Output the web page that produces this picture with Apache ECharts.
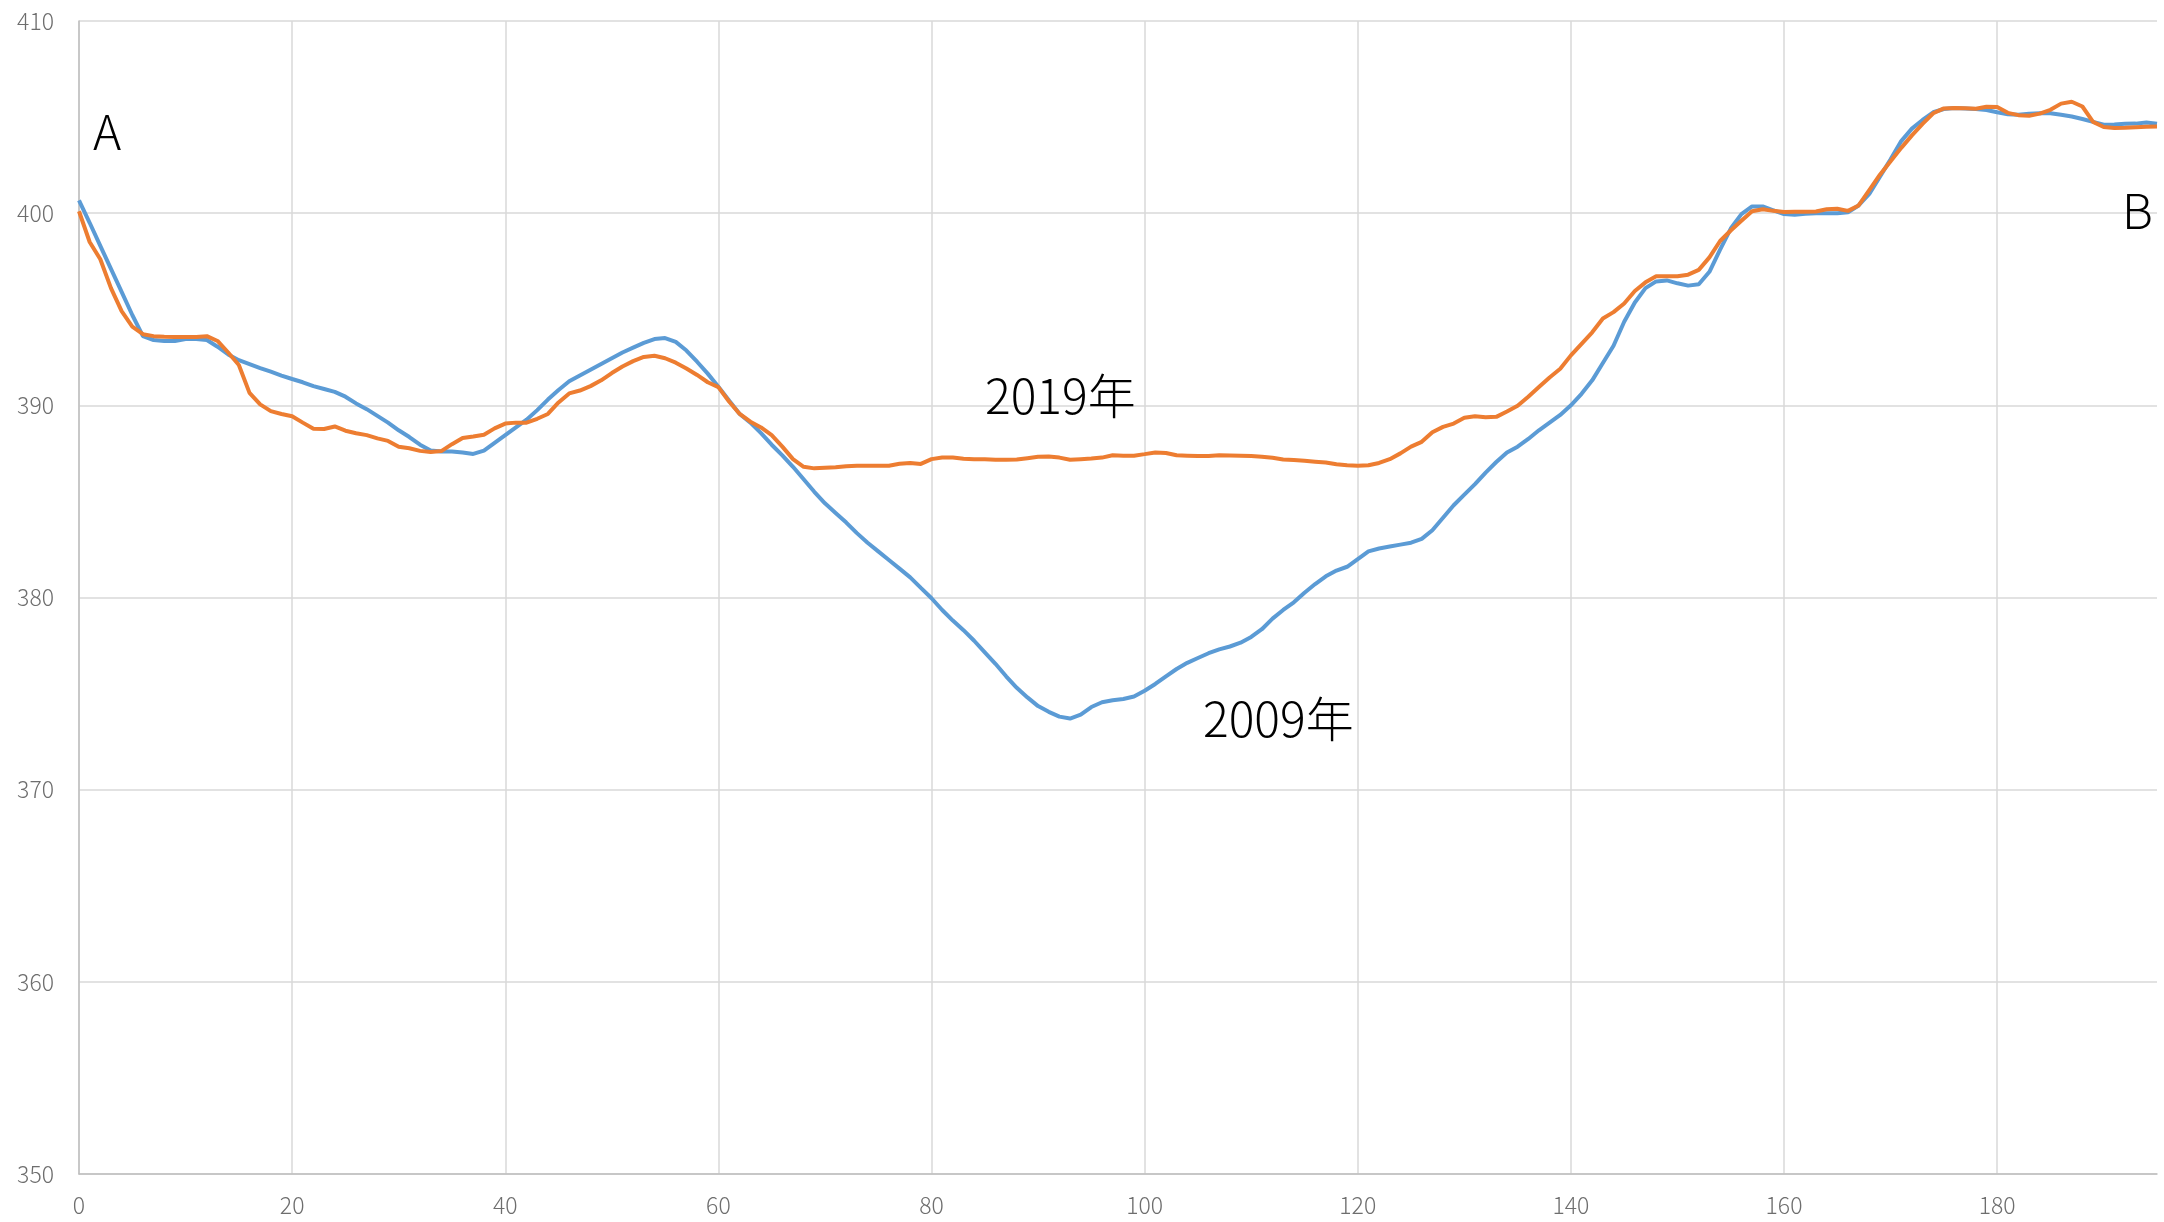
<!DOCTYPE html>
<html>
<head>
<meta charset="utf-8">
<script src="https://cdn.jsdelivr.net/npm/echarts@6/dist/echarts.min.js"></script>
<style>
  html, body { margin: 0; padding: 0; background: #ffffff; }
  #chart { width: 2164px; height: 1222px; }
</style>
</head>
<body>
<div id="chart"></div>
<script>
// x positions are the array index (0 .. 195)
const series2009 = [
  400.66, 399.5, 398.3, 397.1, 395.9, 394.7, 393.6, 393.4, 393.35, 393.35,
  393.45, 393.45, 393.4, 393.05, 392.65, 392.35, 392.15, 391.94, 391.75, 391.55,
  391.37, 391.2, 391.0, 390.85, 390.7, 390.45, 390.1, 389.8, 389.45, 389.1,
  388.7, 388.35, 387.95, 387.65, 387.6, 387.6, 387.55, 387.47, 387.64, 388.05,
  388.45, 388.85, 389.25, 389.75, 390.3, 390.8, 391.25, 391.55, 391.85, 392.15,
  392.45, 392.75, 393.0, 393.25, 393.45, 393.5, 393.3, 392.85, 392.27, 391.65,
  390.97, 390.25, 389.55, 389.1, 388.55, 387.95, 387.4, 386.8, 386.15, 385.5,
  384.9, 384.4, 383.9, 383.35, 382.85, 382.4, 381.95, 381.5, 381.05, 380.5,
  379.96, 379.35, 378.8, 378.3, 377.75, 377.15, 376.55, 375.9, 375.3, 374.8,
  374.35, 374.05, 373.8, 373.7, 373.9, 374.3, 374.55, 374.65, 374.72, 374.85,
  375.15, 375.5, 375.9, 376.28, 376.6, 376.85, 377.1, 377.3, 377.45, 377.65,
  377.95, 378.35, 378.9, 379.35, 379.75, 380.25, 380.7, 381.1, 381.4, 381.6,
  382.0, 382.4, 382.55, 382.65, 382.75, 382.85, 383.05, 383.5, 384.15, 384.8,
  385.35, 385.9, 386.5, 387.05, 387.55, 387.85, 388.25, 388.7, 389.1, 389.5,
  390.0, 390.6, 391.3, 392.2, 393.1, 394.35, 395.35, 396.1, 396.45, 396.5,
  396.35, 396.23, 396.3, 396.95, 398.1, 399.2, 399.95, 400.35, 400.35, 400.15,
  399.95, 399.92, 399.97, 400.0, 400.0, 400.0, 400.05, 400.4, 401.0, 401.9,
  402.8, 403.75, 404.4, 404.85, 405.25, 405.42, 405.47, 405.45, 405.42, 405.37,
  405.25, 405.15, 405.12, 405.18, 405.2, 405.2, 405.12, 405.03, 404.9, 404.75,
  404.6, 404.62, 404.65, 404.66, 404.72, 404.65
];
const series2019 = [
  400.1, 398.5, 397.6, 396.1, 394.9, 394.1, 393.7, 393.6, 393.57, 393.55,
  393.55, 393.56, 393.6, 393.35, 392.75, 392.1, 390.65, 390.05, 389.7, 389.55,
  389.43, 389.1, 388.78, 388.77, 388.9, 388.68, 388.55, 388.45, 388.28, 388.15,
  387.85, 387.77, 387.63, 387.57, 387.62, 387.98, 388.3, 388.38, 388.47, 388.8,
  389.05, 389.1, 389.1, 389.3, 389.55, 390.15, 390.62, 390.77, 391.0, 391.3,
  391.68, 392.02, 392.3, 392.52, 392.58, 392.45, 392.22, 391.92, 391.58, 391.2,
  390.95, 390.2, 389.55, 389.15, 388.85, 388.45, 387.85, 387.2, 386.8, 386.72,
  386.75, 386.78, 386.83, 386.86, 386.86, 386.86, 386.86, 386.96, 387.0, 386.95,
  387.2, 387.28, 387.28, 387.22, 387.2, 387.2, 387.17, 387.17, 387.18, 387.25,
  387.32, 387.34, 387.28, 387.17, 387.2, 387.23, 387.28, 387.4, 387.38, 387.38,
  387.46, 387.55, 387.52, 387.4, 387.38, 387.36, 387.36, 387.4, 387.39, 387.38,
  387.36, 387.33, 387.27, 387.18, 387.15, 387.12, 387.07, 387.02, 386.93, 386.88,
  386.85, 386.88, 387.0, 387.2, 387.5, 387.85, 388.1, 388.6, 388.88, 389.05,
  389.35, 389.43, 389.38, 389.4, 389.68, 389.98, 390.45, 390.95, 391.45, 391.9,
  392.6, 393.2, 393.8, 394.52, 394.85, 395.3, 395.95, 396.4, 396.72, 396.72,
  396.72, 396.8, 397.05, 397.7, 398.55, 399.1, 399.6, 400.1, 400.2, 400.12,
  400.06, 400.07, 400.08, 400.09, 400.2, 400.23, 400.12, 400.4, 401.2, 402.0,
  402.7, 403.4, 404.05, 404.65, 405.2, 405.45, 405.47, 405.46, 405.43, 405.54,
  405.52, 405.22, 405.1, 405.07, 405.18, 405.38, 405.7, 405.8, 405.55, 404.75,
  404.48, 404.43, 404.44, 404.47, 404.5, 404.51
];
const xTicks = [0, 20, 40, 60, 80, 100, 120, 140, 160, 180];
const yTicks = [350, 360, 370, 380, 390, 400, 410];
const seriesNames = ['2009年', '2019年'];
const annotations = [
  { text: 'A', left: 93, top: 108 },
  { text: 'B', left: 2122, top: 187 },
  { text: '2019年', left: 985, top: 372 },
  { text: '2009年', left: 1203, top: 695 }
];

const toPairs = arr => arr.map((v, i) => [i, v]);
const font = '"Noto Sans CJK JP", "Noto Sans", sans-serif';

const chart = echarts.init(document.getElementById('chart'), null, { renderer: 'canvas' });
chart.setOption({
  animation: false,
  backgroundColor: '#ffffff',
  grid: { left: 79, right: 7, top: 21, bottom: 48, containLabel: false },
  xAxis: {
    type: 'value',
    min: 0,
    max: 195,
    interval: 20,
    axisLine: { show: true, lineStyle: { color: '#bfbfbf', width: 1.5 } },
    axisTick: { show: false, customValues: xTicks },
    axisLabel: {
      customValues: xTicks,
      color: '#6e6e6e', fontSize: 23, fontWeight: 300, fontFamily: font, margin: 20
    },
    splitLine: { show: true, lineStyle: { color: '#d9d9d9', width: 1.5 } }
  },
  yAxis: {
    type: 'value',
    min: 350,
    max: 410,
    interval: 10,
    axisLine: { show: true, lineStyle: { color: '#bfbfbf', width: 1.5 } },
    axisTick: { show: false },
    axisLabel: {
      customValues: yTicks,
      color: '#6e6e6e', fontSize: 23, fontWeight: 300, fontFamily: font, margin: 25
    },
    splitLine: { show: true, lineStyle: { color: '#d9d9d9', width: 1.5 } }
  },
  series: [
    {
      name: seriesNames[0], type: 'line', data: toPairs(series2009),
      showSymbol: false, symbol: 'none', smooth: false,
      lineStyle: { color: '#5b9bd5', width: 4 }, z: 2
    },
    {
      name: seriesNames[1], type: 'line', data: toPairs(series2019),
      showSymbol: false, symbol: 'none', smooth: false,
      lineStyle: { color: '#ed7d31', width: 4 }, z: 3
    }
  ],
  graphic: annotations.map(a => ({
    type: 'text', left: a.left, top: a.top, z: 10,
    style: { text: a.text, fontSize: 48, fontWeight: 300, fontFamily: font, fill: '#000000' }
  }))
});
</script>
</body>
</html>
